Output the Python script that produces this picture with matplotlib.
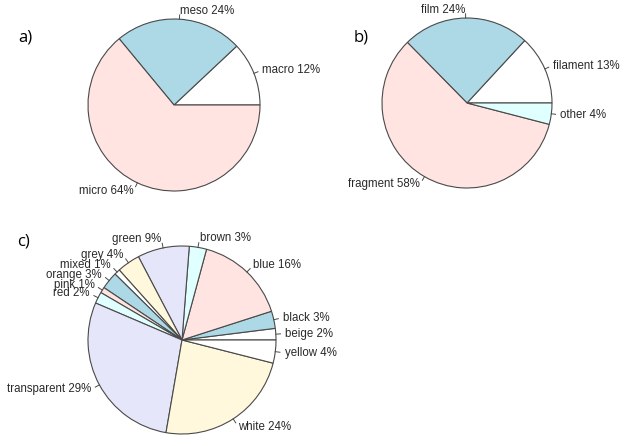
import numpy as np
import matplotlib
matplotlib.use("Agg")
import matplotlib.pyplot as plt

# panel a: size classes (%)
size_labels = ["macro", "meso", "micro"]
size_values = [12, 24, 64]

# panel b: shapes (%)
shape_labels = ["filament", "film", "fragment", "other"]
shape_values = [13, 24, 58, 4]

# panel c: colours (%)
colour_labels = ["beige", "black", "blue", "brown", "green", "grey", "mixed",
                 "orange", "pink", "red", "transparent", "white", "yellow"]
colour_values = [2, 3, 16, 3, 9, 4, 1, 3, 1, 2, 29, 24, 4]

# R's default pie palette
r_cols = ["white", "#ADD8E6", "#FFE4E1", "#E0FFFF", "#E6E6FA", "#FFF8DC"]

W, H = 629, 446


def draw_pie(fig, cx, cy, r, labels, values, tag, tagpos):
    ax = fig.add_axes([(cx - r) / W, (H - cy - r) / H, 2 * r / W, 2 * r / H])
    cols = [r_cols[i % len(r_cols)] for i in range(len(values))]
    wedges, _ = ax.pie(values, colors=cols, startangle=0, counterclock=True,
                       radius=1.0, normalize=True,
                       wedgeprops=dict(edgecolor="#4a4a4a", linewidth=0.8))
    for w, lab, v in zip(wedges, labels, values):
        ang = np.deg2rad((w.theta1 + w.theta2) / 2)
        x, y = np.cos(ang), np.sin(ang)
        ax.plot([x, 1.05 * x], [y, 1.05 * y], color="#4a4a4a", lw=0.7, clip_on=False)
        ax.text(1.1 * x, 1.1 * y, "%s %d%%" % (lab, v),
                ha="left" if x >= 0 else "right", va="center",
                fontsize=8.3, color="#2a2a2a", clip_on=False,
                family=["Liberation Sans", "DejaVu Sans"])
    ax.set_xlim(-1, 1)
    ax.set_ylim(-1, 1)
    ax.set_aspect("equal")
    ax.axis("off")
    fig.text(tagpos[0] / W, 1 - tagpos[1] / H, tag, fontsize=12,
             family=["Open Sans", "DejaVu Sans"], ha="left", va="center")


fig = plt.figure(figsize=(6.29, 4.46), dpi=100)
draw_pie(fig, 174, 105, 86, size_labels, size_values, "a)", (18, 37))
draw_pie(fig, 467, 103, 85, shape_labels, shape_values, "b)", (354, 37))
draw_pie(fig, 182, 340, 94, colour_labels, colour_values, "c)", (17, 242))
fig.savefig("out.png", dpi=100)
